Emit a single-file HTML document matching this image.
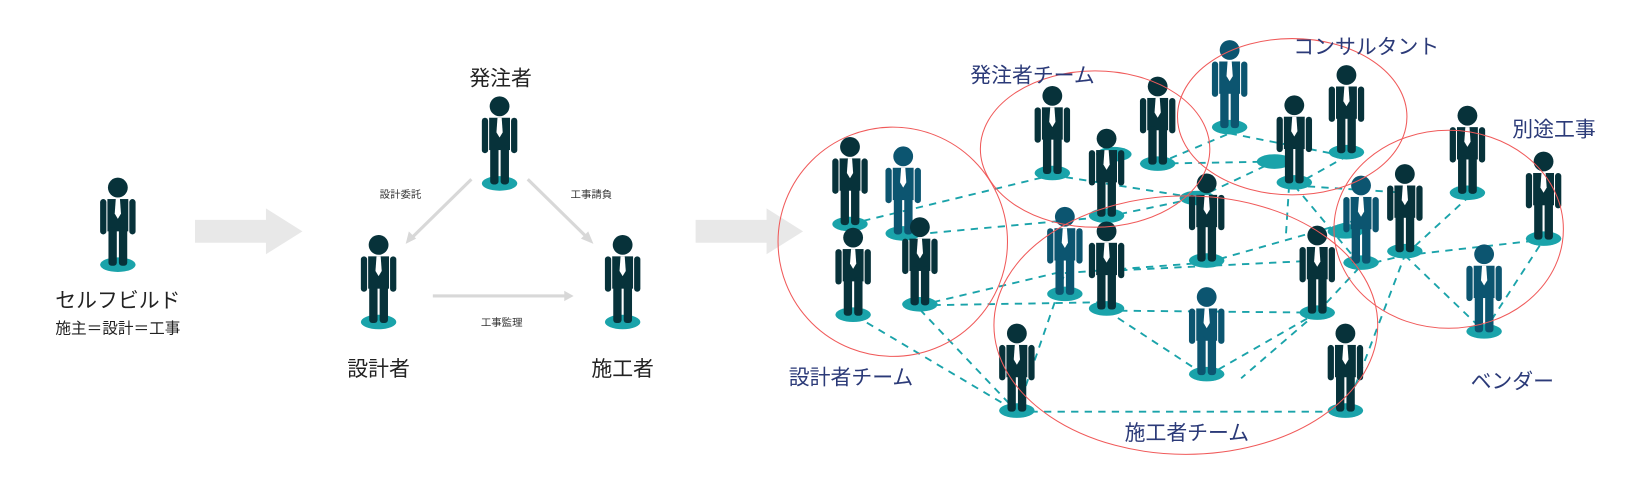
<!DOCTYPE html>
<html><head><meta charset="utf-8"><style>
html,body{margin:0;padding:0;background:#fff;}
svg{display:block;}
text{font-family:"Liberation Sans","Noto Sans CJK JP",sans-serif;}
</style></head><body>
<svg width="1627" height="495" viewBox="0 0 1560 475" preserveAspectRatio="none" xmlns="http://www.w3.org/2000/svg">
<defs>
<g id="pd">
<ellipse cx="0" cy="74" rx="17" ry="7" fill="#1aa3aa"/>
<circle cx="0" cy="0" r="9.5" fill="#07323a"/>
<rect x="-17" y="11" width="6" height="34" rx="3" fill="#07323a"/>
<rect x="11" y="11" width="6" height="34" rx="3" fill="#07323a"/>
<rect x="-10" y="11" width="20" height="31" fill="#07323a"/>
<rect x="-9" y="38" width="8" height="37" rx="3" fill="#07323a"/>
<rect x="1" y="38" width="8" height="37" rx="3" fill="#07323a"/>
<polygon points="-2,11 2,11 3,25 0,30 -3,25" fill="#fff"/>
</g>
<g id="pb">
<ellipse cx="0" cy="74" rx="17" ry="7" fill="#1aa3aa"/>
<circle cx="0" cy="0" r="9.5" fill="#0c5570"/>
<rect x="-17" y="11" width="6" height="34" rx="3" fill="#0c5570"/>
<rect x="11" y="11" width="6" height="34" rx="3" fill="#0c5570"/>
<rect x="-10" y="11" width="20" height="31" fill="#0c5570"/>
<rect x="-9" y="38" width="8" height="37" rx="3" fill="#0c5570"/>
<rect x="1" y="38" width="8" height="37" rx="3" fill="#0c5570"/>
<polygon points="-2,11 2,11 3,25 0,30 -3,25" fill="#fff"/>
</g>
</defs>

<!-- left -->
<use href="#pd" x="113" y="180"/>
<text x="113" y="295" font-size="20" text-anchor="middle" fill="#222">セルフビルド</text>
<text x="113" y="320" font-size="15" text-anchor="middle" fill="#222">施主＝設計＝工事</text>
<polygon points="187,211 255,211 255,200 290,222 255,244 255,233 187,233" fill="#e8e8e8"/>
<polygon points="667,211 735,211 735,200 770,222 735,244 735,233 667,233" fill="#e8e8e8"/>

<!-- middle -->
<text x="480" y="82" font-size="20" text-anchor="middle" fill="#222">発注者</text>
<use href="#pd" x="479" y="102"/>
<use href="#pd" x="363" y="235"/>
<use href="#pd" x="597" y="235"/>
<text x="363" y="361" font-size="20" text-anchor="middle" fill="#222">設計者</text>
<text x="597" y="361" font-size="20" text-anchor="middle" fill="#222">施工者</text>
<g stroke="#d8d8d8" stroke-width="3" fill="#d8d8d8">
<line x1="452" y1="172" x2="394" y2="229"/><polygon points="389,234 392,222 399,229" stroke="none"/>
<line x1="506" y1="172" x2="564" y2="229"/><polygon points="569,234 557,229 564,222" stroke="none"/>
<line x1="415" y1="284" x2="543" y2="284"/><polygon points="550,284 541,279 541,289" stroke="none"/>
</g>
<text x="384" y="190" font-size="10" text-anchor="middle" fill="#333">設計委託</text>
<text x="567" y="190" font-size="10" text-anchor="middle" fill="#333">工事請負</text>
<text x="481" y="313" font-size="10" text-anchor="middle" fill="#333">工事監理</text>

<!-- right: dashed lines -->
<g stroke="#1aa3aa" stroke-width="1.8" stroke-dasharray="7,6" fill="none">
<line x1="815" y1="215" x2="1009" y2="168"/>
<line x1="866" y1="226" x2="1061" y2="208"/>
<line x1="882" y1="293" x2="1021" y2="260"/>
<line x1="882" y1="293" x2="1061" y2="290"/>
<line x1="820" y1="303" x2="975" y2="395"/>
<line x1="882" y1="297" x2="975" y2="395"/>
<line x1="975" y1="395" x2="1290" y2="395"/>
<line x1="975" y1="395" x2="1021" y2="262"/>
<line x1="1061" y1="298" x2="1157" y2="361"/>
<line x1="1157" y1="361" x2="1263" y2="300"/>
<line x1="1061" y1="298" x2="1263" y2="300"/>
<line x1="1061" y1="260" x2="1263" y2="250"/>
<line x1="1021" y1="262" x2="1157" y2="252"/>
<line x1="1009" y1="168" x2="1148" y2="190"/>
<line x1="1061" y1="208" x2="1148" y2="190"/>
<line x1="1110" y1="157" x2="1222" y2="155"/>
<line x1="1110" y1="157" x2="1179" y2="128"/>
<line x1="1179" y1="128" x2="1291" y2="150"/>
<line x1="1148" y1="190" x2="1222" y2="155"/>
<line x1="1241" y1="178" x2="1291" y2="150"/>
<line x1="1241" y1="178" x2="1305" y2="255"/>
<line x1="1241" y1="178" x2="1347" y2="185"/>
<line x1="1236" y1="178" x2="1233" y2="225"/>
<line x1="1157" y1="252" x2="1305" y2="210"/>
<line x1="1263" y1="300" x2="1305" y2="255"/>
<line x1="1290" y1="395" x2="1347" y2="245"/>
<line x1="1347" y1="245" x2="1480" y2="230"/>
<line x1="1423" y1="318" x2="1480" y2="230"/>
<line x1="1347" y1="245" x2="1423" y2="318"/>
<line x1="1347" y1="245" x2="1407" y2="190"/>
<line x1="1305" y1="255" x2="1347" y2="245"/>
<line x1="1263" y1="300" x2="1190" y2="363"/>
</g>
<!-- extra base ellipses -->
<g fill="#1aa3aa">
<ellipse cx="1068" cy="148" rx="17" ry="7"/>
<ellipse cx="1222" cy="155" rx="17" ry="7"/>
<ellipse cx="1148" cy="190" rx="17" ry="7"/>
<ellipse cx="1290" cy="222" rx="17" ry="7"/>
</g>
<!-- people -->
<use href="#pd" x="815" y="141"/>
<use href="#pb" x="866" y="150"/>
<use href="#pd" x="818" y="228"/>
<use href="#pd" x="882" y="218"/>
<use href="#pd" x="1009" y="92"/>
<use href="#pd" x="1110" y="83"/>
<use href="#pb" x="1179" y="48"/>
<use href="#pd" x="1241" y="101"/>
<use href="#pd" x="1291" y="72"/>
<use href="#pd" x="1061" y="133"/>
<use href="#pd" x="1157" y="176"/>
<use href="#pb" x="1021" y="208"/>
<use href="#pd" x="1061" y="222"/>
<use href="#pb" x="1157" y="285"/>
<use href="#pd" x="1263" y="226"/>
<use href="#pb" x="1305" y="178"/>
<use href="#pd" x="1347" y="167"/>
<use href="#pd" x="1407" y="111"/>
<use href="#pd" x="1480" y="155"/>
<use href="#pb" x="1423" y="244"/>
<use href="#pd" x="975" y="320"/>
<use href="#pd" x="1290" y="320"/>

<!-- circles -->
<g fill="none" stroke="#f05a5a" stroke-width="1">
<ellipse cx="856" cy="232" rx="110" ry="110"/>
<ellipse cx="1050" cy="143" rx="110" ry="75"/>
<ellipse cx="1239" cy="112" rx="110" ry="75"/>
<ellipse cx="1137" cy="312" rx="184" ry="124"/>
<ellipse cx="1389" cy="220" rx="110" ry="95"/>
</g>
<g font-size="20" fill="#2b3a78" text-anchor="middle">
<text x="990" y="79">発注者チーム</text>
<text x="1310" y="52">コンサルタント</text>
<text x="1490" y="131">別途工事</text>
<text x="816" y="369">設計者チーム</text>
<text x="1138" y="422">施工者チーム</text>
<text x="1450" y="373">ベンダー</text>
</g>
</svg>
</body></html>
